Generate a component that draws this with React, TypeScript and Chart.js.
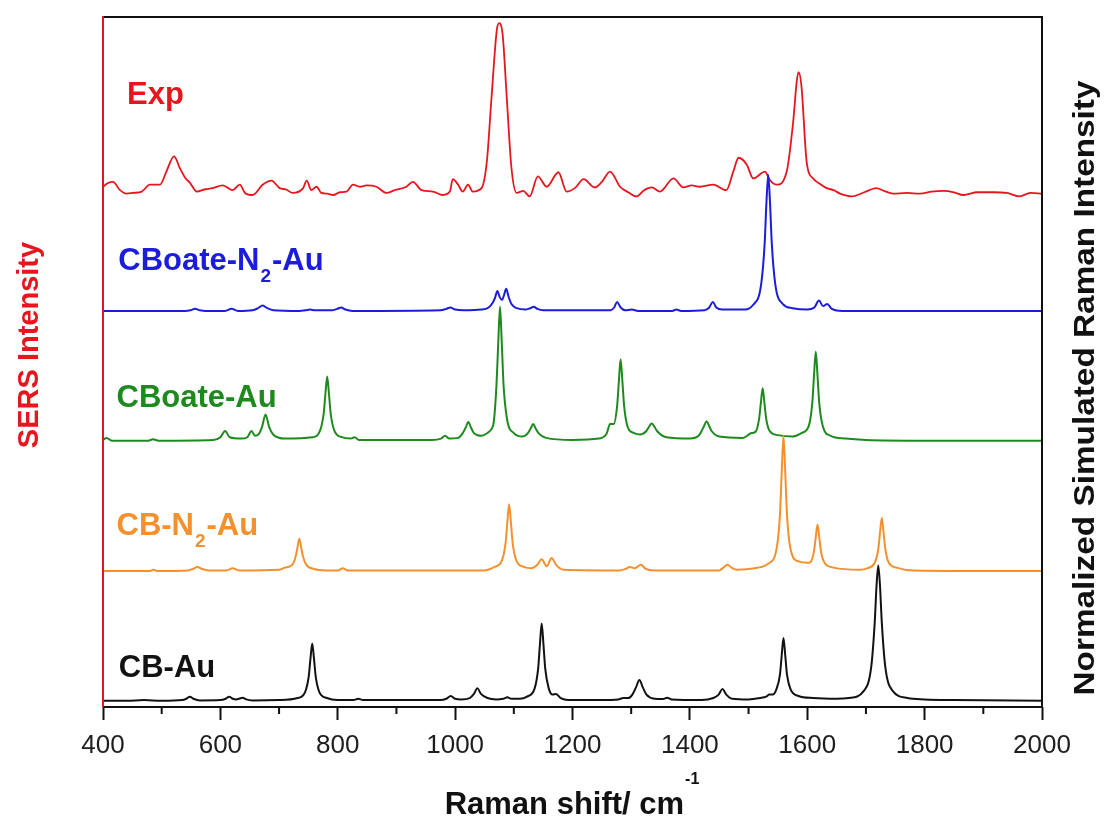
import React, { useEffect, useRef } from "react";
import { Chart, registerables } from "chart.js";

Chart.register(...registerables);

const FONT = "'Liberation Sans', Arial, Helvetica, sans-serif";

// Axis setup (Raman shift in cm^-1, stacked intensity in arbitrary units 0-100)
const X_MIN = 400;
const X_MAX = 2000;
const X_STEP = 200;
const X_MINOR_STEP = 100;
const Y_MIN = 0;
const Y_MAX = 100;
const X_TITLE = "Raman shift/ cm";
const X_TITLE_SUP = "-1";
const LEFT_TITLE = "SERS Intensity";
const RIGHT_TITLE = "Normalized Simulated Raman Intensity";

const seriesNames = ["Exp", "CBoate-N2-Au", "CBoate-Au", "CB-N2-Au", "CB-Au"];
const seriesColors = ["#e5161d", "#1c1cdc", "#1e8a1e", "#f4912e", "#121212"];
const seriesWidths = [1.8, 2, 2, 2, 2];

// label text parts: [main, subscript, rest]
const labelParts = [
  ["Exp", "", ""],
  ["CBoate-N", "2", "-Au"],
  ["CBoate-Au", "", ""],
  ["CB-N", "2", "-Au"],
  ["CB-Au", "", ""],
];
const labelX = [441, 426, 423, 423, 427];
const labelY = [87.4, 63.3, 43.5, 24.9, 4.35];

const expPoints = [
  [400, 75.4], [408, 75.9], [417, 76.1], [429, 74.9], [440, 74.4], [451, 74.5], [466, 74.7], [480, 75.7],
  [497, 75.7], [508, 77.6], [521, 79.8],
  [531, 78.1], [540, 76.7], [548, 76.0], [560, 74.7], [573, 75.0], [587, 75.2], [604, 75.6], [621, 74.9],
  [633, 75.7], [642, 74.5],
  [655, 74.2], [672, 75.7], [687, 76.3], [701, 75.2], [712, 75.0], [723, 74.5], [741, 75.2], [747, 76.3],
  [755, 74.9], [764, 75.4], [772, 74.5], [782, 74.4], [792, 74.2], [804, 74.6], [815, 74.7], [826, 75.7],
  [838, 75.4], [849, 75.6], [866, 75.4], [883, 74.5],
  [897, 74.9], [917, 75.4], [928, 76.1], [943, 74.9], [962, 74.7], [979, 74.2], [991, 74.7], [996, 76.5],
  [1005, 75.7], [1013, 74.7], [1022, 75.7], [1030, 74.7], [1045, 75.2], [1054, 79.0], [1062, 88.3],
  [1071, 98.1], [1075, 99.1], [1081, 97.4], [1088, 88.3], [1096, 78.1], [1105, 74.5], [1116, 74.8],
  [1127, 74.0], [1141, 76.9], [1156, 75.4], [1176, 77.5], [1190, 74.7], [1204, 75.2], [1219, 76.5],
  [1238, 75.3], [1250, 76.1], [1264, 77.6], [1281, 75.4], [1295, 74.6], [1309, 74.0], [1322, 74.9],
  [1335, 75.3], [1349, 74.7],
  [1372, 76.6], [1389, 75.3], [1403, 75.6], [1417, 75.4], [1440, 75.7], [1462, 74.9], [1474, 77.6],
  [1483, 79.6],
  [1497, 78.6], [1508, 76.6], [1528, 77.6], [1536, 76.4], [1548, 75.7], [1565, 77.6], [1576, 84.8],
  [1582, 90.6], [1585, 92.0], [1590, 90.1], [1599, 79.0], [1610, 76.6], [1622, 75.8], [1633, 75.2],
  [1645, 74.9], [1656, 74.4],
  [1676, 74.0], [1697, 74.6], [1718, 75.2], [1731, 74.8], [1746, 74.4], [1770, 74.5], [1792, 74.4],
  [1812, 74.7], [1832, 74.8], [1850, 74.6], [1866, 74.2], [1890, 74.6], [1917, 74.6], [1940, 74.5],
  [1962, 74.0], [1980, 74.5], [2000, 74.4],
];

const cboateN2Points = [
  [400, 57.4], [540, 57.4], [549, 57.5], [557, 57.7], [565, 57.5], [575, 57.4], [608, 57.4], [619, 57.7],
  [630, 57.4], [655, 57.5], [664, 57.8], [672, 58.2], [680, 57.8], [690, 57.5], [735, 57.4], [745, 57.5],
  [753, 57.6], [761, 57.5], [790, 57.5], [799, 57.7], [806, 57.9], [813, 57.6], [825, 57.4], [975, 57.5],
  [985, 57.7], [992, 57.9], [1000, 57.6], [1015, 57.5], [1045, 57.6], [1057, 57.9], [1064, 58.6],
  [1068, 59.3], [1072, 60.3], [1076, 59.4], [1080, 59.0], [1083, 59.6], [1087, 60.6], [1091, 59.5],
  [1096, 58.4], [1105, 57.8], [1120, 57.6], [1128, 57.8], [1134, 58.0], [1140, 57.7], [1150, 57.5],
  [1265, 57.5], [1271, 57.9], [1276, 58.7], [1282, 57.9], [1290, 57.5], [1301, 57.6], [1312, 57.4],
  [1370, 57.4], [1377, 57.6], [1385, 57.4], [1425, 57.5], [1433, 57.9], [1439, 58.7], [1445, 57.9],
  [1455, 57.6], [1490, 57.6], [1508, 58.3], [1521.5, 61.3], [1527.5, 67.3], [1530.5, 73.2], [1533.5, 77.1],
  [1536.5, 73.2], [1539.5, 67.3], [1545.5, 61.3], [1558.5, 58.4], [1575, 57.8], [1600, 57.6], [1612, 57.9],
  [1620, 58.9], [1627, 58.1], [1634, 58.4], [1642, 57.7], [1660, 57.4], [2000, 57.4],
];

const cboatePoints = [
  [400, 38.7], [406, 39.0], [415, 38.6], [477, 38.6], [485, 38.8], [495, 38.6], [588, 38.7], [600, 39.1],
  [608, 40.0], [616, 39.1], [636, 38.9], [646, 39.1], [653, 40.0], [659, 39.3], [665, 39.5], [671, 40.6],
  [677, 42.4], [683, 40.6], [690, 39.5], [710, 38.9], [757, 39.1], [770, 40.1], [776, 42.5], [779, 45.4],
  [782, 47.9], [785, 45.4], [788, 42.5], [794, 40.1], [807, 39.1], [822, 38.9], [829, 39.1], [836, 38.7],
  [960, 38.7], [976, 38.9], [983, 39.3], [990, 38.9], [1005, 39.0], [1013, 39.7], [1018, 40.5],
  [1022.5, 41.3], [1027, 40.5], [1032, 39.7], [1045, 39.3], [1055, 39.7], [1062, 40.3], [1066, 41.4],
  [1070.5, 46.7], [1073.5, 52.8], [1076.5, 58.0], [1079.5, 52.8], [1082.5, 46.7], [1088.5, 41.7],
  [1100, 39.7], [1115, 39.2], [1124, 39.7], [1129, 40.4], [1133, 41.0], [1137, 40.4], [1142, 39.7],
  [1155, 39.0], [1200, 38.7], [1245, 38.9], [1258, 39.6], [1264, 41.0], [1270, 41.0], [1276, 43.6],
  [1279, 47.2], [1282, 50.4], [1285, 47.2], [1288, 43.6], [1294, 40.6], [1305, 39.7], [1315, 39.5],
  [1326, 40.0], [1331, 40.7], [1335, 41.1], [1339, 40.7], [1344, 40.0], [1360, 39.1], [1400, 38.9],
  [1415, 39.3], [1420, 40.0], [1424, 40.7], [1428.5, 41.4], [1433, 40.7], [1437, 40.0], [1450, 39.2],
  [1490, 39.0], [1505, 39.7], [1512, 39.9], [1518, 41.8], [1521, 44.1], [1524, 46.2], [1527, 44.1],
  [1530, 41.8], [1536, 40.0], [1550, 39.4], [1575, 39.2], [1590, 39.7], [1602.5, 40.7], [1608.5, 44.0],
  [1611.5, 48.0], [1614.5, 51.5], [1617.5, 48.0], [1620.5, 44.0], [1626.5, 40.7], [1640, 39.3],
  [1665, 38.9], [1700, 38.7], [1800, 38.6], [2000, 38.6],
];

const cbN2Points = [
  [400, 19.7], [480, 19.7], [486, 19.9], [492, 19.7], [545, 19.8], [553, 20.0], [561, 20.3], [569, 20.0],
  [580, 19.8], [610, 19.8], [621, 20.1], [632, 19.8], [700, 19.9], [710, 20.2], [722.5, 20.6],
  [728.5, 21.9], [731.5, 23.2], [734.5, 24.4], [737.5, 23.2], [740.5, 21.9], [746.5, 20.6], [760, 20.0],
  [780, 19.8], [800, 19.8], [808.5, 20.1], [817, 19.8], [1050, 19.8], [1067, 20.3], [1080, 21.3],
  [1086, 23.8], [1089, 26.8], [1092, 29.4], [1095, 26.8], [1098, 23.8], [1104, 21.3], [1117, 20.3],
  [1130, 20.1], [1140, 20.6], [1147.5, 21.4], [1156, 20.4], [1164.5, 21.6], [1172, 20.6], [1185, 19.9],
  [1280, 19.8], [1290, 20.0], [1298, 20.3], [1306, 20.1], [1316.5, 20.6], [1325, 20.0], [1340, 19.8],
  [1450, 19.8], [1457, 20.2], [1464, 20.6], [1471, 20.2], [1480, 19.9], [1510, 20.1], [1534, 20.8],
  [1547.5, 22.8], [1553.5, 27.9], [1556.5, 34.0], [1559.5, 39.3], [1562.5, 34.0], [1565.5, 27.9],
  [1571.5, 22.9], [1585, 21.1], [1600, 20.9], [1605.5, 21.0], [1611.5, 22.6], [1614.5, 24.6],
  [1617.5, 26.4], [1620.5, 24.6], [1623.5, 22.5], [1629.5, 20.9], [1645, 20.2], [1690, 19.9],
  [1702, 20.1], [1715, 20.9], [1721, 22.9], [1724, 25.3], [1727, 27.4], [1730, 25.3], [1733, 22.9],
  [1739, 20.9], [1752, 20.2], [1780, 19.8], [2000, 19.7],
];

const cbPoints = [
  [400, 0.9], [440, 0.9], [470, 1.0], [500, 0.9], [535, 1.0], [542, 1.2], [548, 1.5], [554, 1.2],
  [565, 0.95], [600, 1.0], [609, 1.2], [615, 1.5], [621, 1.2], [627, 1.1], [632, 1.2], [638, 1.35],
  [644, 1.1], [655, 0.95], [700, 1.0], [731.5, 1.3], [744.5, 2.2], [750.5, 4.4], [753.5, 7.0],
  [756.5, 9.2], [759.5, 7.0], [762.5, 4.4], [768.5, 2.2], [781.5, 1.3], [800, 1.0], [827, 1.0],
  [835, 1.2], [843, 1.0], [975, 1.0], [985, 1.2], [992.5, 1.6], [1000, 1.2], [1010, 1.1], [1025, 1.3],
  [1032, 1.9], [1038, 2.7], [1044, 1.9], [1055, 1.3], [1070, 1.1], [1082, 1.2], [1089, 1.4], [1096, 1.2],
  [1110, 1.2], [1122.5, 1.5], [1135.5, 2.7], [1141.5, 5.6], [1144.5, 9.1], [1147.5, 12.1], [1150.5, 9.1],
  [1153.5, 5.6], [1159.5, 2.7], [1166, 1.8], [1172, 1.9], [1180, 1.3], [1200, 1.0], [1250, 1.0],
  [1278, 1.1], [1286.5, 1.3], [1295, 1.3], [1302, 1.8], [1308, 2.8], [1314, 3.9], [1320, 2.8],
  [1326, 1.8], [1340, 1.2], [1354, 1.15], [1361.5, 1.35], [1369, 1.1], [1420, 1.0], [1440, 1.3],
  [1449, 1.8], [1455.5, 2.6], [1462, 1.8], [1472, 1.2], [1500, 1.1], [1520, 1.3], [1530, 1.5],
  [1535.5, 1.8], [1541, 1.8], [1547.5, 2.6], [1553.5, 4.7], [1556.5, 7.5], [1559.5, 10.0],
  [1562.5, 7.5], [1565.5, 4.7], [1571.5, 2.6], [1585, 1.6], [1610, 1.3], [1650, 1.2], [1671, 1.3],
  [1696, 2.3], [1709, 5.8], [1715, 12.3], [1718, 17.5], [1721, 20.5], [1724, 17.5], [1727, 12.3],
  [1733, 5.8], [1746, 2.3], [1771, 1.3], [1800, 1.1], [1850, 1.0], [2000, 0.9],
];

const seriesPoints = [expPoints, cboateN2Points, cboatePoints, cbN2Points, cbPoints];

const decorPlugin = {
  id: "decor",
  afterDraw(chart: any) {
    const { ctx, chartArea, scales } = chart;
    const xs = scales.x;
    const ys = scales.y;
    const { left, right, top, bottom } = chartArea;
    ctx.save();

    // frame: black top/right/bottom, red left
    ctx.lineWidth = 2;
    ctx.strokeStyle = "#111";
    ctx.beginPath();
    ctx.moveTo(left, top);
    ctx.lineTo(right, top);
    ctx.lineTo(right, bottom);
    ctx.lineTo(left, bottom);
    ctx.stroke();
    ctx.strokeStyle = "#e5161d";
    ctx.beginPath();
    ctx.moveTo(left, top - 1);
    ctx.lineTo(left, bottom);
    ctx.stroke();

    // minor ticks
    ctx.strokeStyle = "#111";
    ctx.lineWidth = 2;
    for (let v = X_MIN + X_MINOR_STEP; v < X_MAX; v += X_STEP) {
      const px = xs.getPixelForValue(v);
      ctx.beginPath();
      ctx.moveTo(px, bottom);
      ctx.lineTo(px, bottom + 7);
      ctx.stroke();
    }

    // series labels
    ctx.textBaseline = "alphabetic";
    ctx.textAlign = "left";
    labelParts.forEach((parts, i) => {
      let px = xs.getPixelForValue(labelX[i]);
      const py = ys.getPixelForValue(labelY[i]);
      ctx.fillStyle = seriesColors[i];
      ctx.font = `bold 31px ${FONT}`;
      ctx.fillText(parts[0], px, py);
      px += ctx.measureText(parts[0]).width;
      if (parts[1]) {
        ctx.font = `bold 19px ${FONT}`;
        ctx.fillText(parts[1], px + 1, py + 12);
        px += ctx.measureText(parts[1]).width + 2;
      }
      if (parts[2]) {
        ctx.font = `bold 31px ${FONT}`;
        ctx.fillText(parts[2], px, py);
      }
    });

    // x title with superscript
    ctx.fillStyle = "#111";
    ctx.font = `bold 31px ${FONT}`;
    const wMain = ctx.measureText(X_TITLE).width;
    ctx.font = `bold 16px ${FONT}`;
    const wSup = ctx.measureText(X_TITLE_SUP).width;
    const cx = (left + right) / 2;
    const startX = cx - (wMain + wSup + 2) / 2;
    ctx.font = `bold 31px ${FONT}`;
    ctx.fillText(X_TITLE, startX, 814);
    ctx.font = `bold 16px ${FONT}`;
    ctx.fillText(X_TITLE_SUP, startX + wMain + 1, 784);

    // left title (red)
    ctx.save();
    ctx.translate(30, 345);
    ctx.rotate(-Math.PI / 2);
    ctx.textAlign = "center";
    ctx.textBaseline = "middle";
    ctx.fillStyle = "#e5161d";
    ctx.font = `bold 29px ${FONT}`;
    ctx.fillText(LEFT_TITLE, 0, 0);
    ctx.restore();

    // right title (black, slightly stretched)
    ctx.save();
    ctx.translate(1086, 388);
    ctx.rotate(-Math.PI / 2);
    ctx.textAlign = "center";
    ctx.textBaseline = "middle";
    ctx.fillStyle = "#111";
    ctx.font = `bold 30px ${FONT}`;
    const wr = ctx.measureText(RIGHT_TITLE).width;
    ctx.scale(615 / wr, 1);
    ctx.fillText(RIGHT_TITLE, 0, 0);
    ctx.restore();

    ctx.restore();
  },
};

export default function App() {
  const canvasRef = useRef<HTMLCanvasElement | null>(null);

  useEffect(() => {
    document.body.style.margin = "0";
    const canvas = canvasRef.current;
    if (!canvas) return;
    const datasets = seriesPoints.map((pts, i) => ({
      label: seriesNames[i],
      data: pts.map(([x, y]) => ({ x, y })),
      borderColor: seriesColors[i],
      backgroundColor: seriesColors[i],
      borderWidth: seriesWidths[i],
      pointRadius: 0,
      cubicInterpolationMode: "monotone",
      fill: false,
      order: 5 - i,
    }));
    const chart = new Chart(canvas, {
      type: "line",
      data: { datasets },
      options: {
        animation: false,
        responsive: false,
        maintainAspectRatio: false,
        layout: { padding: { left: 103, right: 63, top: 17, bottom: 0 } },
        plugins: { legend: { display: false }, tooltip: { enabled: false } },
        scales: {
          x: {
            type: "linear",
            min: X_MIN,
            max: X_MAX,
            ticks: {
              stepSize: X_STEP,
              autoSkip: false,
              maxRotation: 0,
              padding: 10,
              color: "#1e1e1e",
              font: { family: FONT, size: 26 },
              callback: (v: any) => String(v),
            },
            grid: {
              drawOnChartArea: false,
              drawTicks: true,
              tickLength: 13,
              tickWidth: 2,
              tickColor: "#111",
            },
            border: { display: false },
            afterFit: (s: any) => {
              s.height = 111;
            },
          },
          y: { type: "linear", min: Y_MIN, max: Y_MAX, display: false },
        },
      },
      plugins: [decorPlugin],
    } as any);
    return () => chart.destroy();
  }, []);

  return (
    <div style={{ width: 1105, height: 818, background: "#fff" }}>
      <canvas ref={canvasRef} width={1105} height={818} style={{ display: "block" }} />
    </div>
  );
}
